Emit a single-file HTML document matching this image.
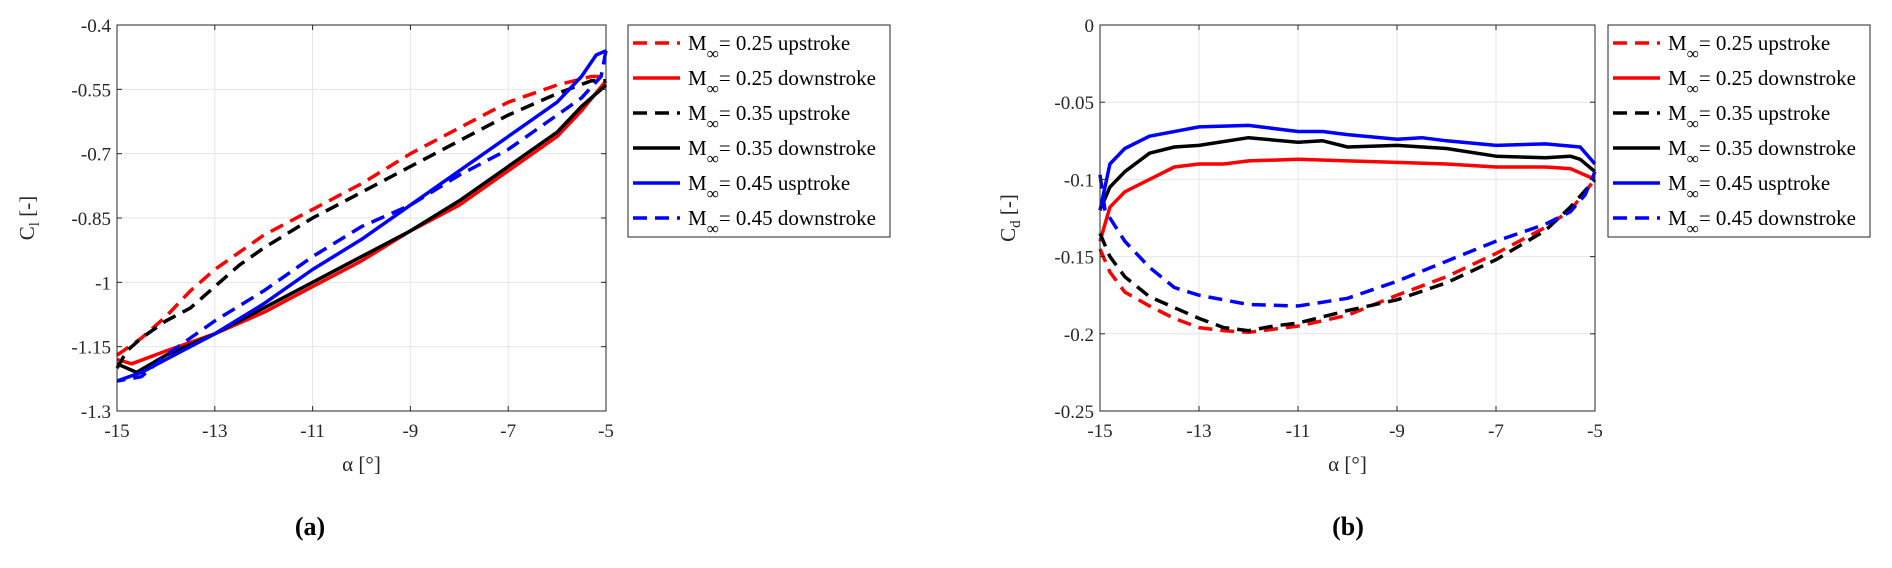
<!DOCTYPE html>
<html><head><meta charset="utf-8"><style>
html,body{margin:0;padding:0;background:#fff;}
svg{display:block;font-family:"Liberation Serif",serif;}
</style></head><body>
<svg id="fig" width="1892" height="568"></svg>
<script>
const xTicks=[-15,-13,-11,-9,-7,-5];
const clTicks=[-0.4,-0.55,-0.7,-0.85,-1,-1.15,-1.3];
const clTickLabels=["-0.4","-0.55","-0.7","-0.85","-1","-1.15","-1.3"];
const cdTicks=[0,-0.05,-0.1,-0.15,-0.2,-0.25];
const cdTickLabels=["0","-0.05","-0.1","-0.15","-0.2","-0.25"];
const legendLabels=["0.25 upstroke","0.25 downstroke","0.35 upstroke","0.35 downstroke","0.45 usptroke","0.45 downstroke"];
const seriesColors=["#ff0000","#ff0000","#000000","#000000","#0000ff","#0000ff"];
const seriesDashed=[true,false,true,false,false,true];
// Cl series [alpha, Cl]
const cl025up=[[-15,-1.17],[-14.5,-1.13],[-14,-1.08],[-13.5,-1.02],[-13,-0.97],[-12.5,-0.93],[-12,-0.89],[-11,-0.83],[-10,-0.77],[-9,-0.7],[-8,-0.64],[-7,-0.58],[-6,-0.54],[-5.3,-0.52],[-5,-0.52]];
const cl025down=[[-5,-0.53],[-5.5,-0.6],[-6,-0.66],[-7,-0.74],[-8,-0.82],[-9,-0.88],[-10,-0.95],[-11,-1.01],[-12,-1.07],[-13,-1.12],[-14,-1.16],[-14.7,-1.19],[-15,-1.18]];
const cl035up=[[-15,-1.2],[-14.8,-1.16],[-14.5,-1.13],[-14,-1.09],[-13.5,-1.06],[-13,-1.01],[-12.5,-0.96],[-12,-0.92],[-11,-0.85],[-10,-0.79],[-9,-0.73],[-8,-0.67],[-7,-0.61],[-6,-0.56],[-5.3,-0.53],[-5,-0.53]];
const cl035down=[[-5,-0.54],[-5.5,-0.59],[-6,-0.65],[-7,-0.73],[-8,-0.81],[-9,-0.88],[-10,-0.94],[-11,-1.0],[-12,-1.06],[-13,-1.12],[-14,-1.17],[-14.6,-1.21],[-15,-1.19]];
const cl045up=[[-15,-1.23],[-14.5,-1.21],[-14,-1.18],[-13,-1.12],[-12,-1.05],[-11,-0.97],[-10,-0.9],[-9,-0.82],[-8,-0.74],[-7,-0.66],[-6,-0.58],[-5.5,-0.52],[-5.2,-0.47],[-5,-0.46]];
const cl045down=[[-5,-0.46],[-5.1,-0.52],[-5.5,-0.57],[-6,-0.61],[-7,-0.69],[-8,-0.75],[-9,-0.82],[-10,-0.87],[-11,-0.94],[-12,-1.02],[-13,-1.09],[-14,-1.17],[-14.5,-1.22],[-15,-1.23]];
// Cd series
const cd025up=[[-15,-0.145],[-14.8,-0.16],[-14.5,-0.173],[-14,-0.182],[-13.5,-0.19],[-13,-0.196],[-12.5,-0.198],[-12,-0.199],[-11,-0.195],[-10,-0.188],[-9,-0.175],[-8,-0.163],[-7,-0.148],[-6,-0.131],[-5.5,-0.12],[-5,-0.1]];
const cd025down=[[-5,-0.1],[-5.5,-0.093],[-6,-0.092],[-7,-0.092],[-8,-0.09],[-9,-0.089],[-10,-0.088],[-11,-0.087],[-12,-0.088],[-12.5,-0.09],[-13,-0.09],[-13.5,-0.092],[-14,-0.1],[-14.5,-0.108],[-14.8,-0.118],[-15,-0.14]];
const cd035up=[[-15,-0.135],[-14.8,-0.15],[-14.5,-0.163],[-14,-0.176],[-13,-0.19],[-12.5,-0.196],[-12,-0.198],[-11.5,-0.195],[-11,-0.193],[-10,-0.185],[-9,-0.178],[-8,-0.167],[-7,-0.152],[-6,-0.133],[-5.5,-0.118],[-5,-0.1]];
const cd035down=[[-5,-0.095],[-5.3,-0.087],[-5.5,-0.085],[-6,-0.086],[-7,-0.085],[-8,-0.08],[-9,-0.078],[-10,-0.079],[-10.5,-0.075],[-11,-0.076],[-12,-0.073],[-13,-0.078],[-13.5,-0.079],[-14,-0.083],[-14.5,-0.095],[-14.8,-0.105],[-15,-0.12]];
const cd045up=[[-15,-0.12],[-14.8,-0.09],[-14.5,-0.08],[-14,-0.072],[-13,-0.066],[-12,-0.065],[-11,-0.069],[-10.5,-0.069],[-10,-0.071],[-9,-0.074],[-8.5,-0.073],[-8,-0.075],[-7,-0.078],[-6,-0.077],[-5.3,-0.079],[-5,-0.09]];
const cd045down=[[-15,-0.097],[-14.9,-0.12],[-14.5,-0.14],[-14,-0.157],[-13.5,-0.17],[-13,-0.175],[-12,-0.181],[-11,-0.182],[-10,-0.177],[-9,-0.166],[-8,-0.153],[-7,-0.14],[-6,-0.129],[-5.5,-0.121],[-5.2,-0.11],[-5,-0.095]];

const NS="http://www.w3.org/2000/svg";
const svg=document.getElementById('fig');
function mk(tag,attrs,parent,txt){const e=document.createElementNS(NS,tag);for(const k in attrs)e.setAttribute(k,attrs[k]);if(txt!==undefined)e.textContent=txt;(parent||svg).appendChild(e);return e;}

function drawPanel(cfg){
  const g=mk('g',{});
  
  
  const L=cfg.x0,R=cfg.x1,T=25,B=411;
  const sx=v=>L+(v-(-15))/10*(R-L);
  const sy=v=>T+(cfg.ymax-v)/(cfg.ymax-cfg.ymin)*(B-T);
  xTicks.forEach(t=>{const l=mk('line',{x1:sx(t),x2:sx(t),y1:T,y2:B,stroke:'#e6e6e6','stroke-width':1},g);
    });
  cfg.yTicks.forEach(t=>{const l=mk('line',{x1:L,x2:R,y1:sy(t),y2:sy(t),stroke:'#e6e6e6','stroke-width':1},g);
    });
  cfg.series.forEach((s,i)=>{
    const d=s.map((p,j)=>(j?'L':'M')+sx(p[0]).toFixed(1)+','+sy(p[1]).toFixed(1)).join('');
    const p=mk('path',{d:d,fill:'none',stroke:seriesColors[i],'stroke-width':3.5,'stroke-linejoin':'round'},g);
    if(seriesDashed[i])p.setAttribute('stroke-dasharray','14 8');
    
    
  });
  const bx=mk('rect',{x:L,y:T,width:R-L,height:B-T,fill:'none',stroke:'#262626','stroke-width':1},g);
  
  xTicks.forEach(t=>{
    mk('line',{x1:sx(t),x2:sx(t),y1:B,y2:B-5,stroke:'#262626'},g);
    mk('line',{x1:sx(t),x2:sx(t),y1:T,y2:T+5,stroke:'#262626'},g);
    const tx=mk('text',{x:sx(t),y:B+26,'text-anchor':'middle','font-size':19,fill:'#262626'},g,String(t));
    
  });
  cfg.yTicks.forEach((t,i)=>{
    mk('line',{x1:L,x2:L+5,y1:sy(t),y2:sy(t),stroke:'#262626'},g);
    mk('line',{x1:R,x2:R-5,y1:sy(t),y2:sy(t),stroke:'#262626'},g);
    const tx=mk('text',{x:L-6,y:sy(t)+7,'text-anchor':'end','font-size':19,fill:'#262626'},g,cfg.yLabels[i]);
    
  });
  const xl=mk('text',{x:(L+R)/2,y:B+60,'text-anchor':'middle','font-size':21,fill:'#262626'},g,'α [°]');
  
  const yc=(T+B)/2;
  const yl=mk('text',{x:cfg.ylx,y:yc,'text-anchor':'middle','font-size':21,fill:'#262626',transform:`rotate(-90 ${cfg.ylx} ${yc})`},g);
  
  mk('tspan',{},yl,'C');mk('tspan',{dy:5,'font-size':15},yl,cfg.sub);mk('tspan',{dy:-5},yl,' [-]');
  const lg=mk('g',{},g);
  
  const lx=cfg.lx;
  mk('rect',{x:lx,y:25,width:262,height:212,fill:'#fff',stroke:'#262626','stroke-width':1},lg);
  const rows=[43,78,113,148,183,218];
  legendLabels.forEach((lab,i)=>{
    const e=mk('g',{},lg);
    
    const ln=mk('line',{x1:lx+5,x2:lx+52,y1:rows[i],y2:rows[i],stroke:seriesColors[i],'stroke-width':3.5},e);
    if(seriesDashed[i])ln.setAttribute('stroke-dasharray','14 8');
    const t=mk('text',{x:lx+60,y:rows[i]+7,'font-size':21,fill:'#000'},e);
    mk('tspan',{},t,'M');mk('tspan',{dy:9,'font-size':17},t,'∞');mk('tspan',{dy:-9},t,'= '+lab);
  });
  const cap=mk('text',{x:cfg.capx,y:535,'text-anchor':'middle','font-size':26,'font-weight':'bold',fill:'#000'},g,cfg.cap);
  
}
drawPanel({name:'cl-chart',x0:117,x1:606,ymax:-0.4,ymin:-1.3,yTicks:clTicks,yLabels:clTickLabels,sub:'l',ylx:34,lx:628,capx:310,cap:'(a)',
  series:[cl025up,cl025down,cl035up,cl035down,cl045up,cl045down]});
drawPanel({name:'cd-chart',x0:1100,x1:1595,ymax:0,ymin:-0.25,yTicks:cdTicks,yLabels:cdTickLabels,sub:'d',ylx:1015,lx:1608,capx:1348,cap:'(b)',
  series:[cd025up,cd025down,cd035up,cd035down,cd045up,cd045down]});
</script>
</body></html>
